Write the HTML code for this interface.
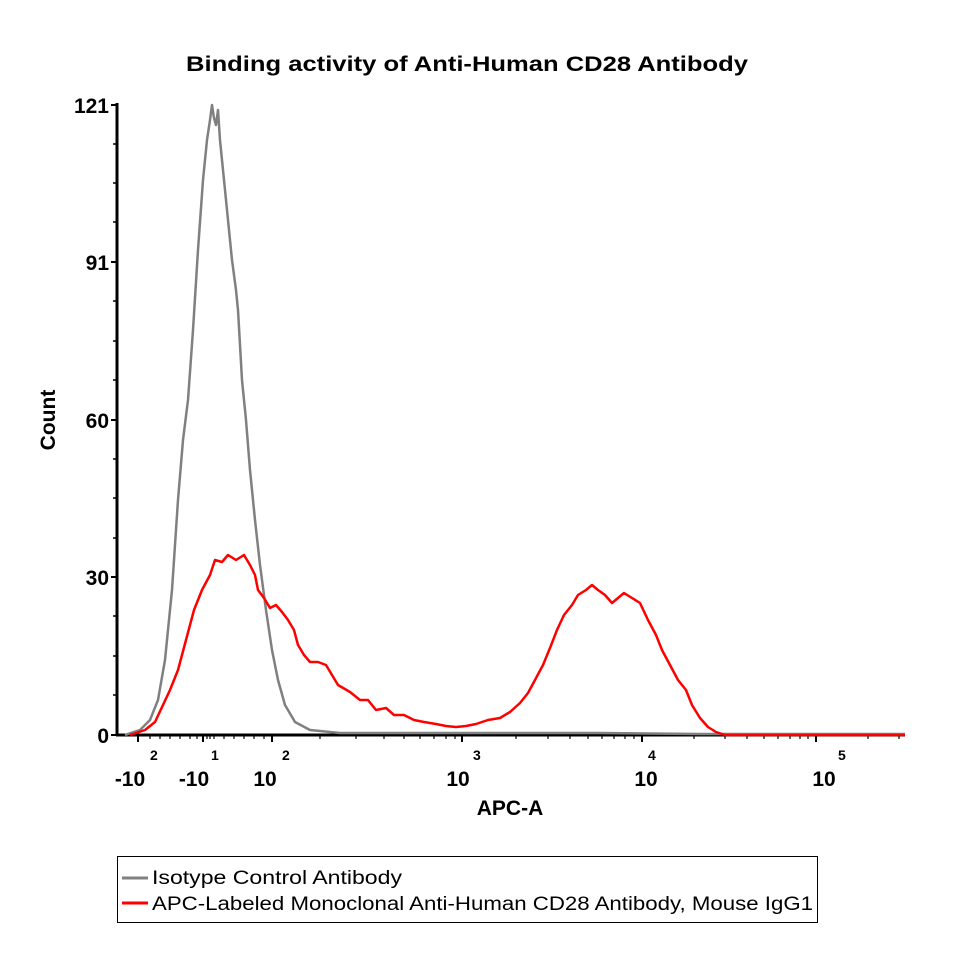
<!DOCTYPE html>
<html><head><meta charset="utf-8"><style>
html,body{margin:0;padding:0;background:#fff;}
svg{display:block;font-family:"Liberation Sans",sans-serif;}
</style></head><body>
<svg width="965" height="965" viewBox="0 0 965 965" xmlns="http://www.w3.org/2000/svg">
<text x="467" y="71" font-size="21" font-weight="bold" text-anchor="middle" textLength="562" lengthAdjust="spacingAndGlyphs">Binding activity of Anti-Human CD28 Antibody</text>
<!-- y axis -->
<line x1="117" y1="103" x2="117" y2="736" stroke="#000" stroke-width="3"/>
<g stroke="#000" stroke-width="2">
<line x1="111" y1="105" x2="117" y2="105"/><line x1="111" y1="262" x2="117" y2="262"/><line x1="111" y1="420" x2="117" y2="420"/><line x1="111" y1="577" x2="117" y2="577"/><line x1="111" y1="735" x2="117" y2="735"/>
</g>
<g stroke="#000" stroke-width="1.5">
<line x1="113" y1="144" x2="117" y2="144"/><line x1="113" y1="183" x2="117" y2="183"/><line x1="113" y1="222" x2="117" y2="222"/>
<line x1="113" y1="301" x2="117" y2="301"/><line x1="113" y1="341" x2="117" y2="341"/><line x1="113" y1="380" x2="117" y2="380"/>
<line x1="113" y1="459" x2="117" y2="459"/><line x1="113" y1="498" x2="117" y2="498"/><line x1="113" y1="538" x2="117" y2="538"/>
<line x1="113" y1="616" x2="117" y2="616"/><line x1="113" y1="656" x2="117" y2="656"/><line x1="113" y1="695" x2="117" y2="695"/>
</g>
<g font-size="21" font-weight="bold" text-anchor="end">
<text x="109" y="113">121</text><text x="109" y="270">91</text><text x="109" y="428">60</text><text x="109" y="585">30</text><text x="109" y="743">0</text>
</g>
<text transform="translate(55,420) rotate(-90)" font-size="21" font-weight="bold" text-anchor="middle">Count</text>
<!-- x axis -->
<line x1="116" y1="735" x2="905" y2="735" stroke="#000" stroke-width="3"/>
<g stroke="#000" stroke-width="2">
<line x1="138" y1="735" x2="138" y2="742"/><line x1="203" y1="735" x2="203" y2="742"/><line x1="272" y1="735" x2="272" y2="742"/>
<line x1="462" y1="735" x2="462" y2="742"/><line x1="642" y1="735" x2="642" y2="742"/><line x1="816" y1="735" x2="816" y2="742"/>
</g>
<g stroke="#000" stroke-width="1.2">
<line x1="150" y1="735" x2="150" y2="739"/><line x1="160" y1="735" x2="160" y2="739"/><line x1="170" y1="735" x2="170" y2="739"/><line x1="180" y1="735" x2="180" y2="739"/><line x1="190" y1="735" x2="190" y2="739"/><line x1="197" y1="735" x2="197" y2="739"/>
<line x1="207" y1="735" x2="207" y2="739"/><line x1="210" y1="735" x2="210" y2="739"/><line x1="214" y1="735" x2="214" y2="739"/><line x1="224" y1="735" x2="224" y2="739"/><line x1="234" y1="735" x2="234" y2="739"/><line x1="244" y1="735" x2="244" y2="739"/><line x1="254" y1="735" x2="254" y2="739"/><line x1="264" y1="735" x2="264" y2="739"/>
<line x1="320" y1="735" x2="320" y2="739"/><line x1="356" y1="735" x2="356" y2="739"/><line x1="384" y1="735" x2="384" y2="739"/><line x1="404" y1="735" x2="404" y2="739"/><line x1="420" y1="735" x2="420" y2="739"/><line x1="434" y1="735" x2="434" y2="739"/><line x1="446" y1="735" x2="446" y2="739"/><line x1="455" y1="735" x2="455" y2="739"/>
<line x1="516" y1="735" x2="516" y2="739"/><line x1="548" y1="735" x2="548" y2="739"/><line x1="570" y1="735" x2="570" y2="739"/><line x1="588" y1="735" x2="588" y2="739"/><line x1="602" y1="735" x2="602" y2="739"/><line x1="614" y1="735" x2="614" y2="739"/><line x1="625" y1="735" x2="625" y2="739"/><line x1="634" y1="735" x2="634" y2="739"/>
<line x1="694" y1="735" x2="694" y2="739"/><line x1="725" y1="735" x2="725" y2="739"/><line x1="747" y1="735" x2="747" y2="739"/><line x1="764" y1="735" x2="764" y2="739"/><line x1="778" y1="735" x2="778" y2="739"/><line x1="790" y1="735" x2="790" y2="739"/><line x1="800" y1="735" x2="800" y2="739"/><line x1="808" y1="735" x2="808" y2="739"/>
<line x1="868" y1="735" x2="868" y2="739"/><line x1="899" y1="735" x2="899" y2="739"/>
</g>
<g font-weight="bold">
<text x="130" y="786" font-size="21" text-anchor="middle">-10</text><text x="150" y="760" font-size="14">2</text>
<text x="194" y="786" font-size="21" text-anchor="middle">-10</text><text x="211" y="760" font-size="14">1</text>
<text x="265" y="786" font-size="21" text-anchor="middle">10</text><text x="282" y="760" font-size="14">2</text>
<text x="458" y="786" font-size="21" text-anchor="middle">10</text><text x="473" y="760" font-size="14">3</text>
<text x="646" y="786" font-size="21" text-anchor="middle">10</text><text x="648" y="760" font-size="14">4</text>
<text x="824" y="786" font-size="21" text-anchor="middle">10</text><text x="838" y="760" font-size="14">5</text>
<text x="510" y="815" font-size="21" text-anchor="middle">APC-A</text>
</g>
<!-- gray -->
<polyline fill="none" stroke="#808080" stroke-width="2.5" stroke-linejoin="round" points="125,735 140,730 150,720 158,700 165,660 172,590 178,500 183,440 188,400 193,330 198,250 203,180 207,140 210,120 212,105 214,118 216,125 218,110 220,140 222,160 224,180 228,220 232,260 236,290 238,310 240,345 242,380 246,420 250,470 255,520 260,565 266,610 272,650 278,680 285,705 295,722 310,730 340,733 400,733 600,733 700,734 905,734"/>
<!-- red -->
<polyline fill="none" stroke="#ff0000" stroke-width="2.5" stroke-linejoin="round" points="130,735 145,730 155,722 163,705 170,690 178,670 186,640 194,610 202,590 210,575 215,560 222,562 228,555 236,560 244,555 250,565 255,575 258,590 264,598 270,608 276,605 282,612 288,620 294,630 298,645 304,655 310,662 318,662 326,665 332,675 338,685 350,692 360,700 368,700 376,710 386,708 394,715 404,715 414,720 424,722 436,724 446,726 456,727 466,726 476,724 488,720 500,718 510,712 520,703 528,693 535,680 543,665 550,648 557,630 564,615 572,605 578,595 586,590 592,585 598,590 605,595 612,603 618,598 624,593 632,598 640,603 648,620 656,635 662,650 670,665 678,680 686,690 692,705 700,718 708,727 716,732 725,735 905,735"/>
<!-- legend -->
<rect x="117.5" y="856.5" width="700" height="66" fill="none" stroke="#000" stroke-width="1"/>
<line x1="122" y1="878" x2="148" y2="878" stroke="#808080" stroke-width="3"/>
<line x1="122" y1="903" x2="148" y2="903" stroke="#ff0000" stroke-width="3"/>
<text x="152" y="884" font-size="19" textLength="250" lengthAdjust="spacingAndGlyphs">Isotype Control Antibody</text>
<text x="152" y="910" font-size="19" textLength="661" lengthAdjust="spacingAndGlyphs">APC-Labeled Monoclonal Anti-Human CD28 Antibody, Mouse IgG1</text>
</svg>
</body></html>
